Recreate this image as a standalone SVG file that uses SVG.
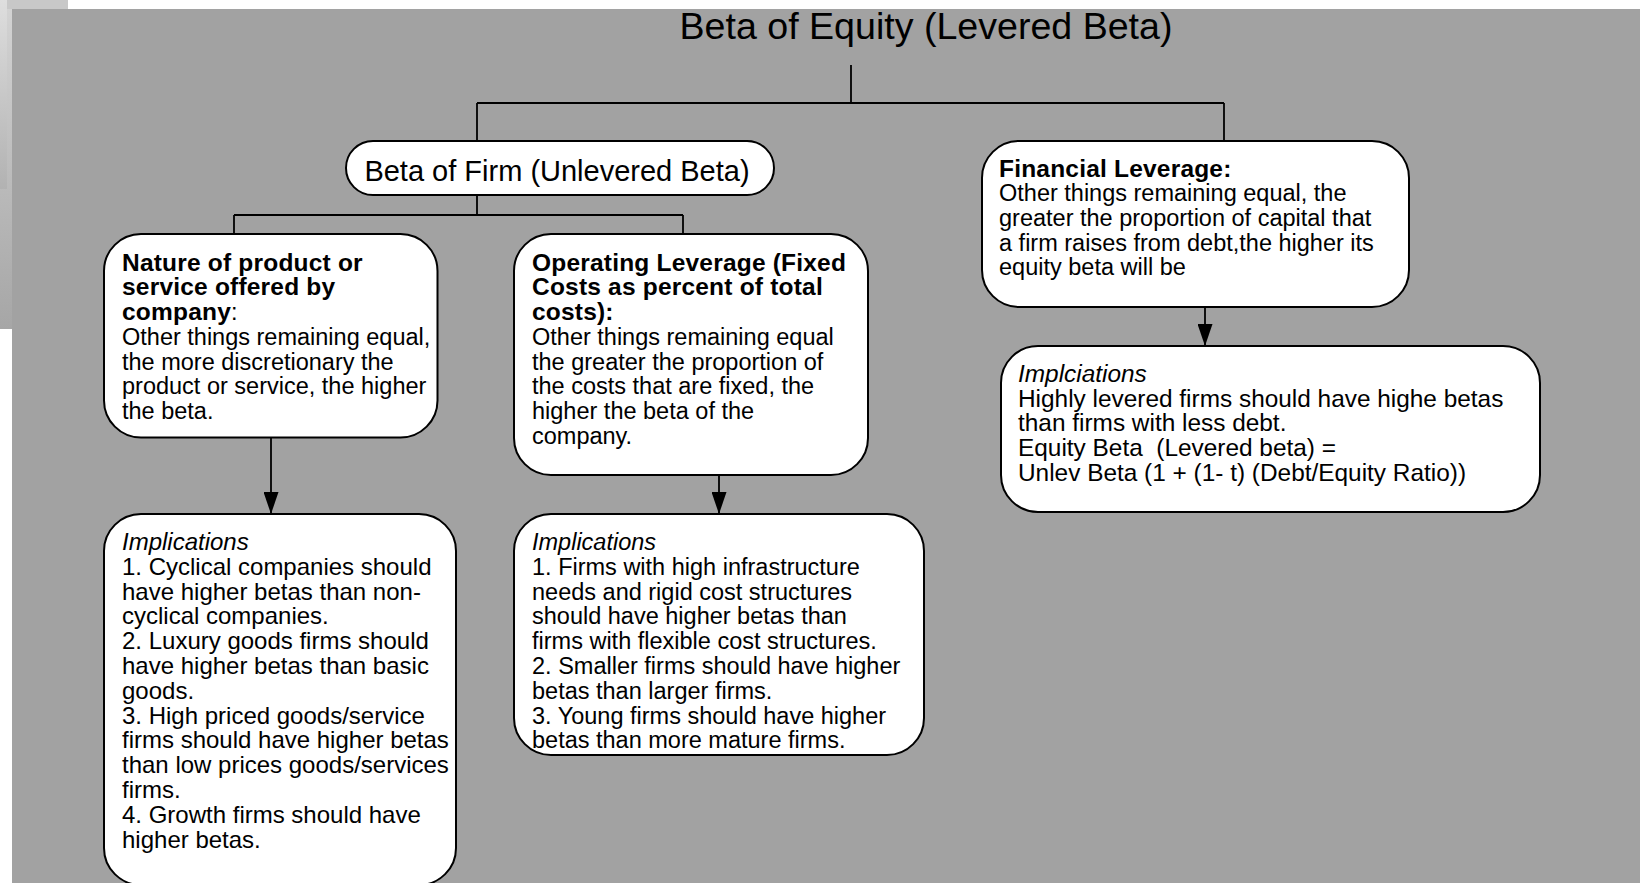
<svg xmlns="http://www.w3.org/2000/svg" width="1645" height="883" viewBox="0 0 1645 883">
  <defs>
    <linearGradient id="edgeFade" x1="0" y1="0" x2="0" y2="1">
      <stop offset="0" stop-color="#d4d4d4"/>
      <stop offset="1" stop-color="#a6a6a6"/>
    </linearGradient>
    <linearGradient id="edgeFadeLight" x1="0" y1="0" x2="0" y2="1">
      <stop offset="0" stop-color="#dedede"/>
      <stop offset="1" stop-color="#b2b2b2"/>
    </linearGradient>
    <marker id="arrowhead" markerUnits="userSpaceOnUse" viewBox="0 0 22 15" refX="22" refY="7.5" markerWidth="22" markerHeight="15" orient="auto">
      <path d="M0,0 L22,7.5 L0,15 z" fill="#000"/>
    </marker>
    <style>
      .box { fill: #ffffff; stroke: #000000; stroke-width: 2; }
      .wire { fill: none; stroke: #000000; stroke-width: 1.8; }
      .txt { font-family: "Liberation Sans", Arial, Helvetica, sans-serif; font-size: 23.5px; fill: #000000; }
      .txt.lg { font-size: 24px; }
      .txt.xl { font-size: 24.4px; }
      .b { font-weight: bold; font-size: 24.5px; letter-spacing: 0.2px; }
      .i { font-style: italic; }
      .title { font-family: "Liberation Sans", Arial, Helvetica, sans-serif; font-size: 37.6px; fill: #000000; }
      .pill { font-family: "Liberation Sans", Arial, Helvetica, sans-serif; font-size: 29px; fill: #000000; }
    </style>
  </defs>

  <!-- page background and slide frame -->
  <rect x="0" y="0" width="1645" height="883" fill="#ffffff"/>
  <rect x="0" y="0" width="12" height="329" fill="url(#edgeFade)"/>
  <rect x="0" y="0" width="7" height="189" fill="url(#edgeFadeLight)"/>
  <rect x="7" y="0" width="61" height="9" fill="#c8c8c8"/>
  <rect x="12" y="9" width="1628" height="874" fill="#a2a2a2"/>

  <!-- connectors -->
  <g id="connectors">
    <path class="wire" d="M851,65 V103"/>
    <path class="wire" d="M477,103 H1224"/>
    <path class="wire" d="M477,103 V141"/>
    <path class="wire" d="M1224,103 V141"/>
    <path class="wire" d="M477,195 V215"/>
    <path class="wire" d="M234,215 H683"/>
    <path class="wire" d="M234,215 V234"/>
    <path class="wire" d="M683,215 V234"/>
    <path class="wire" d="M271,437.5 V514" marker-end="url(#arrowhead)"/>
    <path class="wire" d="M719,475 V514" marker-end="url(#arrowhead)"/>
    <path class="wire" d="M1205,307 V346" marker-end="url(#arrowhead)"/>
  </g>

  <!-- root heading -->
  <g id="node-equity-beta">
    <text class="title" x="926" y="39" text-anchor="middle">Beta of Equity (Levered Beta)</text>
  </g>

  <g id="node-firm-beta">
    <rect class="box" x="346" y="141" width="428" height="54" rx="27" ry="27"/>
    <text class="pill" x="557" y="180.5" text-anchor="middle">Beta of Firm (Unlevered Beta)</text>
  </g>

  <g id="node-financial-leverage">
    <rect class="box" x="982" y="141" width="427" height="166" rx="37" ry="37"/>
    <text class="txt" x="999">
      <tspan class="b" x="999" y="176.5">Financial Leverage:</tspan>
      <tspan x="999" y="201.2">Other things remaining equal, the</tspan>
      <tspan x="999" y="225.9">greater the proportion of capital that</tspan>
      <tspan x="999" y="250.6">a firm raises from debt,the higher its</tspan>
      <tspan x="999" y="275.3">equity beta will be</tspan>
    </text>
  </g>

  <g id="node-product-nature">
    <rect class="box" x="104" y="234" width="333.5" height="203.5" rx="37" ry="37"/>
    <text class="txt" x="122">
      <tspan class="b" x="122" y="270.7">Nature of product or</tspan>
      <tspan class="b" x="122" y="295.4">service offered by</tspan>
      <tspan x="122" y="320.1"><tspan class="b">company</tspan>:</tspan>
      <tspan x="122" y="344.8">Other things remaining equal,</tspan>
      <tspan x="122" y="369.5">the more discretionary the</tspan>
      <tspan x="122" y="394.2">product or service, the higher</tspan>
      <tspan x="122" y="418.9">the beta.</tspan>
    </text>
  </g>

  <g id="node-operating-leverage">
    <rect class="box" x="514" y="234" width="354" height="241" rx="37" ry="37"/>
    <text class="txt" x="532">
      <tspan class="b" x="532" y="270.7">Operating Leverage (Fixed</tspan>
      <tspan class="b" x="532" y="295.4">Costs as percent of total</tspan>
      <tspan class="b" x="532" y="320.1">costs):</tspan>
      <tspan x="532" y="344.8">Other things remaining equal</tspan>
      <tspan x="532" y="369.5">the greater the proportion of</tspan>
      <tspan x="532" y="394.2">the costs that are fixed, the</tspan>
      <tspan x="532" y="418.9">higher the beta of the</tspan>
      <tspan x="532" y="443.6">company.</tspan>
    </text>
  </g>

  <g id="node-financial-implications">
    <rect class="box" x="1001" y="346" width="539" height="166" rx="37" ry="37"/>
    <text class="txt xl" x="1018" style="white-space:pre">
      <tspan class="i" x="1018" y="382">Implciations</tspan>
      <tspan x="1018" y="406.7">Highly levered firms should have highe betas</tspan>
      <tspan x="1018" y="431.4">than firms with less debt.</tspan>
      <tspan x="1018" y="456.1">Equity Beta  (Levered beta) =</tspan>
      <tspan x="1018" y="480.8">Unlev Beta (1 + (1- t) (Debt/Equity Ratio))</tspan>
    </text>
  </g>

  <g id="node-product-implications">
    <rect class="box" x="104" y="514" width="352" height="371" rx="37" ry="37"/>
    <text class="txt lg" x="122">
      <tspan class="i" x="122" y="550">Implications</tspan>
      <tspan x="122" y="574.8">1. Cyclical companies should</tspan>
      <tspan x="122" y="599.6">have higher betas than non-</tspan>
      <tspan x="122" y="624.4">cyclical companies.</tspan>
      <tspan x="122" y="649.2">2. Luxury goods firms should</tspan>
      <tspan x="122" y="674">have higher betas than basic</tspan>
      <tspan x="122" y="698.8">goods.</tspan>
      <tspan x="122" y="723.6">3. High priced goods/service</tspan>
      <tspan x="122" y="748.4">firms should have higher betas</tspan>
      <tspan x="122" y="773.2">than low prices goods/services</tspan>
      <tspan x="122" y="798">firms.</tspan>
      <tspan x="122" y="822.8">4. Growth firms should have</tspan>
      <tspan x="122" y="847.6">higher betas.</tspan>
    </text>
  </g>

  <g id="node-operating-implications">
    <rect class="box" x="514" y="514" width="410" height="241" rx="37" ry="37"/>
    <text class="txt" x="532">
      <tspan class="i" x="532" y="550">Implications</tspan>
      <tspan x="532" y="574.8">1. Firms with high infrastructure</tspan>
      <tspan x="532" y="599.6">needs and rigid cost structures</tspan>
      <tspan x="532" y="624.4">should have higher betas than</tspan>
      <tspan x="532" y="649.2">firms with flexible cost structures.</tspan>
      <tspan x="532" y="674">2. Smaller firms should have higher</tspan>
      <tspan x="532" y="698.8">betas than larger firms.</tspan>
      <tspan x="532" y="723.6">3. Young firms should have higher</tspan>
      <tspan x="532" y="748.4">betas than more mature firms.</tspan>
    </text>
  </g>
</svg>
